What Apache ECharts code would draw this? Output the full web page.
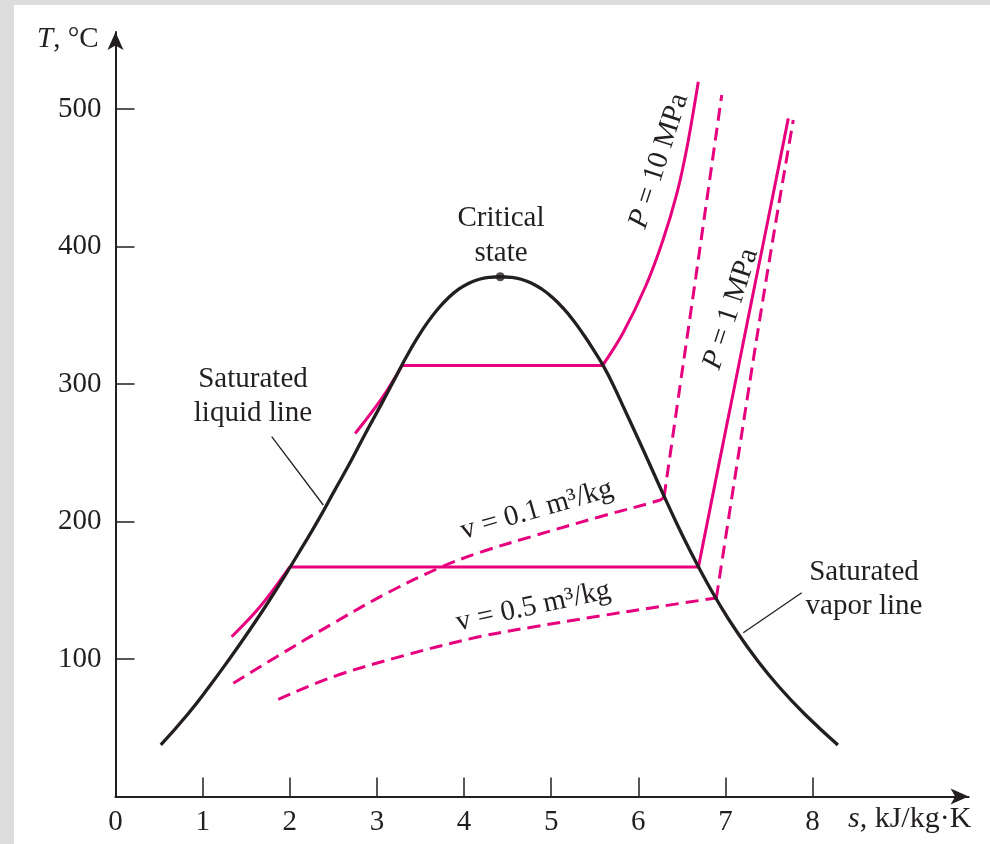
<!DOCTYPE html>
<html>
<head>
<meta charset="utf-8">
<script src="https://cdn.jsdelivr.net/npm/echarts@6/dist/echarts.min.js"></script>
<style>
html,body{margin:0;padding:0;background:#fff;}
#chart{width:990px;height:844px;}
</style>
</head>
<body>
<div id="chart"></div>
<script>
// ---- Data (s in kJ/kg·K, T in °C) ----
const xTickValues = [1, 2, 3, 4, 5, 6, 7, 8];
const xLabelValues = [0, 1, 2, 3, 4, 5, 6, 7, 8];
const yTickValues = [100, 200, 300, 400, 500];

// saturation dome, liquid side then vapor side
const domeLiquid = [[0.52,37.5],[0.831,60],[1.076,80],[1.307,100],[1.528,120],[1.739,140],[1.943,160.5],[2.139,181],[2.331,201.5],[2.518,223],[2.702,244],[2.885,266],[3.065,287],[3.215,305],[3.335,319.4],[3.455,332.6],[3.575,344.3],[3.695,354.2],[3.815,362.4],[3.935,368.8],[4.055,373.3],[4.175,376.2],[4.295,377.6]];
const criticalPoint = [[4.415,378]];
const domeVapor = [[4.535,377.6],[4.655,376.2],[4.775,373.3],[4.895,368.9],[5.015,362.9],[5.135,355.3],[5.255,346.2],[5.375,335.6],[5.495,323.9],[5.60,313],[5.706,300],[5.853,280],[5.999,260],[6.142,240],[6.284,220],[6.43,200],[6.584,180],[6.749,160],[6.929,140],[7.129,120],[7.354,100],[7.611,80],[7.908,60],[8.29,37.5]];

const p10Liquid = [[2.75,264],[3.05,289],[3.29,313.5]];
const p10Flat = [[3.29,313.5],[5.59,313.5]];
const p10Vapor = [[5.59,313.5],[5.824,337.1],[6.09,372],[6.283,404.7],[6.444,439],[6.559,472.4],[6.688,519.9]];

const p1Liquid = [[1.333,116.2],[1.658,138],[2.0,167]];
const p1Flat = [[2.0,167],[6.69,167]];
const p1Vapor = [[6.69,167],[6.935,245],[7.095,295.5],[7.263,348.8],[7.471,414],[7.721,493.2]];

const v01Wet = [[1.352,82.3],[1.85,101.7],[2.499,126],[3.112,147.8],[3.724,166.5],[4.18,177.5],[4.80,189.5],[5.56,203.5],[6.25,215.6],[6.295,217.8]];
const v01Vapor = [[6.295,217.8],[6.475,297],[6.66,378],[6.957,510.2]];

const v05Wet = [[1.868,70.7],[2.499,87.1],[3.265,101.7],[4.145,115.8],[4.791,123.3],[5.56,131.3],[6.249,138.2],[6.895,144.4]];
const v05Vapor = [[6.895,144.4],[7.319,317.5],[7.53,399.9],[7.778,492]];

// ---- Styles ----
const PINK = '#e6007e';
const INK = '#231f20';
const FONT = 'Liberation Serif';

function line(data, color, width, dashed, smooth) {
  return {
    type: 'line', data: data, showSymbol: false, silent: true,
    smooth: smooth === undefined ? 0.35 : smooth,
    lineStyle: { color: color, width: width, type: dashed ? [13, 7] : 'solid', cap: 'butt' },
    z: color === INK ? 3 : 2
  };
}

const chart = echarts.init(document.getElementById('chart'), null, { renderer: 'canvas' });

const txt = (x, y, text, rotDeg, extra) => ({
  type: 'text', x: x, y: y, rotation: (rotDeg || 0) * Math.PI / 180, z: 10,
  style: Object.assign({
    text: text, fill: INK, fontFamily: FONT, fontSize: 29,
    align: 'center', verticalAlign: 'middle',
    rich: { i: { fontStyle: 'italic', fontFamily: FONT, fontSize: 29, fill: INK } }
  }, extra || {})
});

const option = {
  backgroundColor: '#ffffff',
  animation: false,
  grid: { left: 115.5, right: 21.4, top: 32, bottom: 47.5, containLabel: false },
  xAxis: {
    type: 'value', min: 0, max: 9.79, interval: 1,
    splitLine: { show: false },
    axisLine: { show: true, onZero: false, symbol: ['none', 'arrow'], symbolSize: [12, 18], lineStyle: { color: INK, width: 2 } },
    axisTick: { show: true, inside: true, length: 19, customValues: xTickValues, lineStyle: { color: INK, width: 1.5 } },
    axisLabel: { show: true, customValues: xLabelValues, margin: 11, color: INK, fontFamily: FONT, fontSize: 29 }
  },
  yAxis: {
    type: 'value', min: 0, max: 556, interval: 100,
    splitLine: { show: false },
    axisLine: { show: true, onZero: false, symbol: ['none', 'arrow'], symbolSize: [12, 18], lineStyle: { color: INK, width: 2 } },
    axisTick: { show: true, inside: true, length: 19, customValues: yTickValues, lineStyle: { color: INK, width: 1.5 } },
    axisLabel: { show: true, customValues: yTickValues, margin: 14, color: INK, fontFamily: FONT, fontSize: 29 }
  },
  series: [
    line(p10Liquid, PINK, 3, false),
    line(p10Flat, PINK, 3, false, false),
    line(p10Vapor, PINK, 3, false),
    line(p1Liquid, PINK, 3, false),
    line(p1Flat, PINK, 3, false, false),
    line(p1Vapor, PINK, 3, false),
    line(v01Wet, PINK, 3, true),
    line(v01Vapor, PINK, 3, true),
    line(v05Wet, PINK, 3, true),
    line(v05Vapor, PINK, 3, true),
    line(domeLiquid.concat(criticalPoint, domeVapor), INK, 3.3, false, 0.5),
    { type: 'scatter', data: criticalPoint, symbolSize: 9, itemStyle: { color: INK }, silent: true, z: 5 }
  ],
  graphic: [
    { type: 'rect', shape: { x: 0, y: 0, width: 990, height: 5 }, style: { fill: '#dcdcdc' }, z: 0 },
    { type: 'rect', shape: { x: 0, y: 0, width: 14, height: 844 }, style: { fill: '#dcdcdc' }, z: 0 },
    txt(37, 39.5, '{i|T}, °C', 0, { align: 'left' }),
    txt(848, 819.5, '{i|s}, kJ/kg·K', 0, { align: 'left', fontSize: 30, rich: { i: { fontStyle: 'italic', fontFamily: FONT, fontSize: 30, fill: INK } } }),
    txt(501, 236.3, 'Critical\nstate', 0, { lineHeight: 35 }),
    txt(253, 396.5, 'Saturated\nliquid line', 0, { lineHeight: 33.5 }),
    txt(864, 589.5, 'Saturated\nvapor line', 0, { lineHeight: 34 }),
    txt(659, 161, '{i|P} = 10 MPa', 72.2),
    txt(731, 309, '{i|P} = 1 MPa', 72),
    txt(536.7, 510, 'v = 0.1 m³/kg', 16),
    txt(533.3, 606.7, 'v = 0.5 m³/kg', 12),
    { type: 'line', shape: { x1: 271.7, y1: 436.7, x2: 323.3, y2: 505 }, style: { stroke: INK, lineWidth: 1.3 }, z: 10 },
    { type: 'line', shape: { x1: 801.7, y1: 592.7, x2: 743.3, y2: 632.7 }, style: { stroke: INK, lineWidth: 1.3 }, z: 10 }
  ]
};
chart.setOption(option);
</script>
</body>
</html>
